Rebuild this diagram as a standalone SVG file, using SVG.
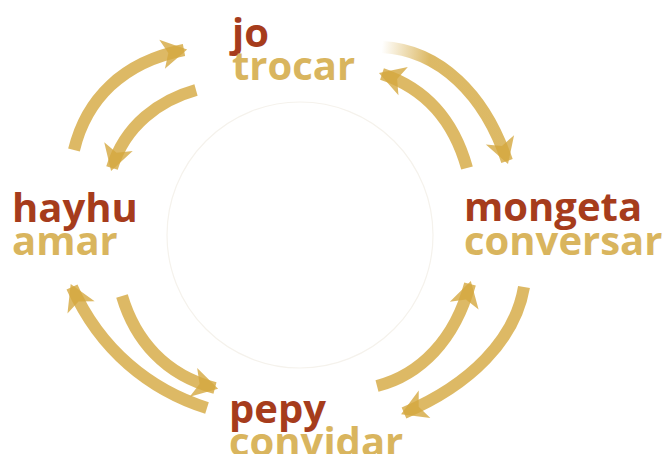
<svg xmlns="http://www.w3.org/2000/svg" width="665" height="454" viewBox="0 0 665 454">
<style>
  .w { font-family: "Open Sans", "Noto Sans", sans-serif; font-weight: 700; font-size: 40px; }
  .red { fill: #A63C1C; }
  .gold { fill: #D9B55E; }
  .arr { fill: none; stroke: #D4A83F; stroke-opacity: 0.8; stroke-width: 12; stroke-linecap: butt; marker-end: url(#head); }
</style>
<defs>
  <marker id="head" markerUnits="userSpaceOnUse" markerWidth="34" markerHeight="34" viewBox="-24 -16 30 32" refX="0" refY="0" orient="auto">
    <path d="M-21,-14 L3,0 L-21,14 L-15,0 Z" fill="#D4A83F" fill-opacity="0.8"/>
  </marker>
  <linearGradient id="fade" gradientUnits="userSpaceOnUse" x1="382" y1="47" x2="430" y2="52">
    <stop offset="0" stop-color="#D4A83F" stop-opacity="0"/>
    <stop offset="1" stop-color="#D4A83F" stop-opacity="0.8"/>
  </linearGradient>
</defs>
<rect width="665" height="454" fill="#FFFFFF"/>
<circle cx="300" cy="235" r="133" fill="none" stroke="#F5F2EC" stroke-width="1.2"/>
<g id="connectors">
  <path class="arr" d="M74,150 C86,100 122,62 184,50"/>
  <path class="arr" d="M196,90 C160,100 125,125 112,168"/>
  <path class="arr" d="M382,47 C440,50 485,95 507,161" style="stroke:url(#fade);stroke-opacity:1"/>
  <path class="arr" d="M467,168 C455,125 430,90 382,74"/>
  <path class="arr" d="M207,408 C150,390 100,350 72,287"/>
  <path class="arr" d="M122,296 C135,340 165,375 215,388"/>
  <path class="arr" d="M377,386 C420,375 455,340 470,284"/>
  <path class="arr" d="M524,287 C515,340 470,385 404,413"/>
</g>
<g id="node-jo">
  <text class="w red" x="232" y="47">jo</text>
  <text class="w gold" x="232" y="80">trocar</text>
</g>
<g id="node-hayhu">
  <text class="w red" x="12" y="222">hayhu</text>
  <text class="w gold" x="12" y="255">amar</text>
</g>
<g id="node-mongeta">
  <text class="w red" x="464" y="221">mongeta</text>
  <text class="w gold" x="464" y="255">conversar</text>
</g>
<g id="node-pepy">
  <text class="w red" x="229" y="423">pepy</text>
  <text class="w gold" x="229" y="456">convidar</text>
</g>
</svg>
